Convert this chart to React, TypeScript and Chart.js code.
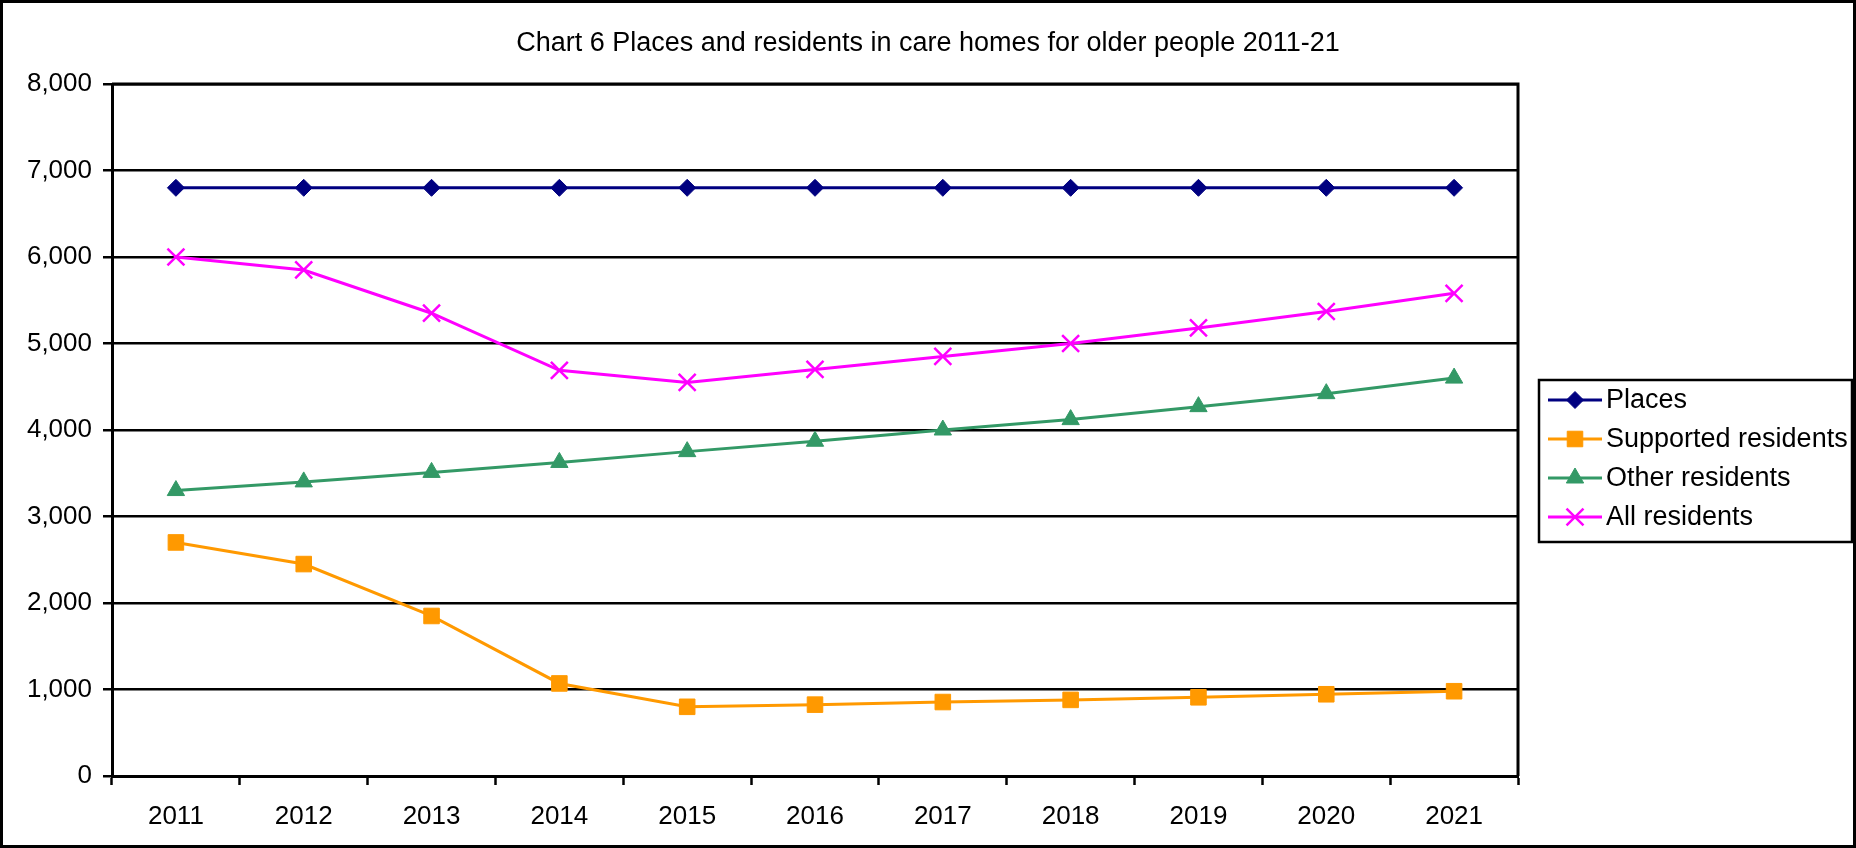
import { useEffect, useRef } from 'react';
import { Chart, registerables } from 'chart.js';
import { drawPoint } from 'chart.js/helpers';

Chart.register(...registerables);

const years = ['2011', '2012', '2013', '2014', '2015', '2016', '2017', '2018', '2019', '2020', '2021'];
const places = [6800, 6800, 6800, 6800, 6800, 6800, 6800, 6800, 6800, 6800, 6800];
const supportedResidents = [2700, 2450, 1850, 1070, 800, 825, 855, 880, 910, 945, 980];
const otherResidents = [3300, 3400, 3510, 3625, 3750, 3870, 4000, 4120, 4270, 4420, 4600];
const allResidents = [6000, 5850, 5350, 4690, 4550, 4700, 4850, 5000, 5180, 5370, 5580];
const yTicks = [0, 1000, 2000, 3000, 4000, 5000, 6000, 7000, 8000];

const titleText = 'Chart 6 Places and residents in care homes for older people 2011-21';
const FONT = '"Liberation Sans", Arial, sans-serif';

const decorPlugin = {
  id: 'decor',
  afterDraw(chart: any) {
    const ctx = chart.ctx as CanvasRenderingContext2D;
    const area = chart.chartArea;
    ctx.save();
    // outer border
    ctx.strokeStyle = '#000';
    ctx.lineWidth = 3;
    ctx.strokeRect(1.5, 1.5, chart.width - 3, chart.height - 3);
    // plot area top & right border
    ctx.lineWidth = 3;
    ctx.beginPath();
    ctx.moveTo(area.left, area.top);
    ctx.lineTo(area.right, area.top);
    ctx.lineTo(area.right, area.bottom);
    ctx.stroke();
    // title
    ctx.fillStyle = '#000';
    ctx.font = `27px ${FONT}`;
    ctx.textAlign = 'center';
    ctx.textBaseline = 'middle';
    ctx.fillText(titleText, chart.width / 2, 44);
    // legend
    const lx = 1539, ly = 380, lw = 313, lh = 162;
    ctx.lineWidth = 2.5;
    ctx.strokeStyle = '#000';
    ctx.strokeRect(lx, ly, lw, lh);
    ctx.font = `27px ${FONT}`;
    ctx.textAlign = 'left';
    chart.data.datasets.forEach((ds: any, i: number) => {
      const y = 400 + i * 39;
      ctx.strokeStyle = ds.borderColor;
      ctx.lineWidth = ds.borderWidth;
      ctx.beginPath();
      ctx.moveTo(1548, y);
      ctx.lineTo(1602, y);
      ctx.stroke();
      ctx.fillStyle = ds.pointBackgroundColor;
      ctx.strokeStyle = ds.pointBorderColor;
      ctx.lineWidth = ds.pointBorderWidth;
      drawPoint(ctx, { pointStyle: ds.pointStyle, radius: ds.pointRadius, borderWidth: ds.pointBorderWidth, rotation: 0 } as any, 1575, y);
      ctx.fillStyle = '#000';
      ctx.fillText(ds.label, 1606, y + 1);
    });
    ctx.restore();
  },
};

export default function App() {
  const ref = useRef<HTMLCanvasElement>(null);
  useEffect(() => {
    document.body.style.margin = '0';
    const chart = new Chart(ref.current!, {
      type: 'line',
      data: {
        labels: years,
        datasets: [
          {
            label: 'Places',
            data: places,
            borderColor: '#000080',
            backgroundColor: '#000080',
            pointBackgroundColor: '#000080',
            pointBorderColor: '#000080',
            pointStyle: 'rectRot',
            pointRadius: 8.5,
            pointBorderWidth: 1,
            borderWidth: 3,
            tension: 0,
          },
          {
            label: 'Supported residents',
            data: supportedResidents,
            borderColor: '#FF9900',
            backgroundColor: '#FF9900',
            pointBackgroundColor: '#FF9900',
            pointBorderColor: '#FF9900',
            pointStyle: 'rect',
            pointRadius: 11,
            pointBorderWidth: 1,
            borderWidth: 3,
            tension: 0,
          },
          {
            label: 'Other residents',
            data: otherResidents,
            borderColor: '#339966',
            backgroundColor: '#339966',
            pointBackgroundColor: '#339966',
            pointBorderColor: '#339966',
            pointStyle: 'triangle',
            pointRadius: 10,
            pointBorderWidth: 1,
            borderWidth: 3,
            tension: 0,
          },
          {
            label: 'All residents',
            data: allResidents,
            borderColor: '#FF00FF',
            backgroundColor: '#FF00FF',
            pointBackgroundColor: '#FF00FF',
            pointBorderColor: '#FF00FF',
            pointStyle: 'crossRot',
            pointRadius: 12,
            pointBorderWidth: 2.5,
            borderWidth: 3,
            tension: 0,
          },
        ],
      },
      options: {
        responsive: false,
        animation: false,
        devicePixelRatio: 1,
        layout: { padding: { left: 0, top: 84, right: 338, bottom: 0 } },
        plugins: {
          legend: { display: false },
          title: { display: false },
          tooltip: { enabled: false },
        },
        scales: {
          x: {
            type: 'category',
            offset: true,
            afterFit: (s: any) => { s.height = 72; },
            grid: {
              offset: true,
              drawOnChartArea: false,
              drawTicks: true,
              tickLength: 9,
              tickWidth: 2.5,
              tickColor: '#000',
              color: '#000',
            },
            border: { display: true, color: '#000', width: 3 },
            ticks: {
              color: '#000',
              padding: 16,
              maxRotation: 0,
              autoSkip: false,
              font: { family: FONT, size: 26 },
            },
          },
          y: {
            min: 0,
            max: 8000,
            afterFit: (s: any) => { s.width = 112; },
            afterBuildTicks: (s: any) => { s.ticks = yTicks.map((v) => ({ value: v })); },
            grid: {
              color: '#000',
              lineWidth: 2.5,
              drawTicks: true,
              tickLength: 9,
              tickWidth: 2.5,
              tickColor: '#000',
            },
            border: { display: true, color: '#000', width: 3 },
            ticks: {
              color: '#000',
              padding: 11,
              font: { family: FONT, size: 26 },
              callback: (v: any) => Number(v).toLocaleString('en-US'),
            },
          },
        },
      },
      plugins: [decorPlugin],
    });
    return () => chart.destroy();
  }, []);
  return (
    <div style={{ width: 1856, height: 848, overflow: 'hidden', background: '#fff' }}>
      <canvas ref={ref} width={1856} height={848} style={{ display: 'block' }} />
    </div>
  );
}
